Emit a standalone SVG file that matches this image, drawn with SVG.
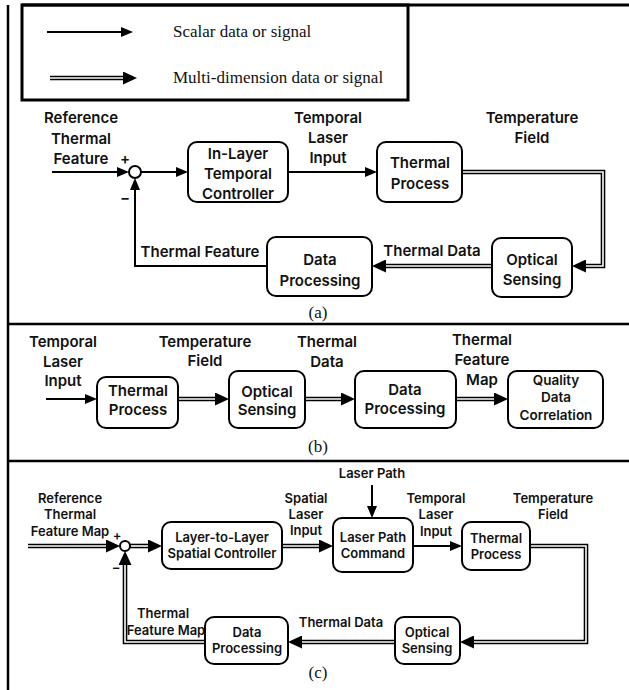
<svg xmlns="http://www.w3.org/2000/svg" width="629" height="690" viewBox="0 0 629 690">
<defs>
<style>
.frame{stroke:#000;stroke-width:2.5;fill:none}
.box{fill:#fff;stroke:#000;stroke-width:2}
.t{font-family:Inter,"Open Sans","Liberation Sans",sans-serif;font-weight:600;fill:#111;text-anchor:middle}
.a{font-size:15px}
.b{font-size:15px}
.q{font-size:13.5px}
.c{font-size:13px}
.ser{font-family:"Liberation Serif","Times New Roman",serif;font-size:17px;fill:#111}
.sgl{fill:none;stroke:#000;stroke-width:2}
.dbl{fill:none;stroke:#000;stroke-width:4.6;stroke-linejoin:miter}
.dbi{fill:none;stroke:#fff;stroke-width:1.6;stroke-linejoin:miter}
</style>
<marker id="ah" markerUnits="userSpaceOnUse" markerWidth="12" markerHeight="10" viewBox="0 0 12 10" refX="0" refY="5" orient="auto"><path d="M0,0 L12,5 L0,10 z" fill="#000"/></marker>
<marker id="ah2" markerUnits="userSpaceOnUse" markerWidth="14" markerHeight="13" viewBox="0 0 14 13" refX="0" refY="6.5" orient="auto"><path d="M0,0 L14,6.5 L0,13 z" fill="#000"/></marker>
</defs>
<rect width="629" height="690" fill="#fff"/>

<g id="frame">
<line class="frame" x1="8" y1="5" x2="8" y2="690"/>
<line class="frame" x1="22" y1="5" x2="629" y2="5" style="stroke-width:3"/>
<rect class="frame" x="22" y="5" width="386" height="95" style="stroke-width:3"/>
<line class="frame" x1="8" y1="324" x2="629" y2="324"/>
<line class="frame" x1="8" y1="461" x2="629" y2="461"/>
<text class="ser" x="318" y="318" text-anchor="middle">(a)</text>
<text class="ser" x="318" y="452" text-anchor="middle">(b)</text>
<text class="ser" x="318" y="678" text-anchor="middle">(c)</text>
</g>

<g id="legend">
<path class="sgl" d="M47,32 H121" marker-end="url(#ah)"/>
<path class="dbl" d="M50,78 H123" marker-end="url(#ah2)"/>
<path class="dbi" d="M50,78 H123"/>
<text class="ser" x="173" y="37">Scalar data or signal</text>
<text class="ser" x="173" y="83">Multi-dimension data or signal</text>
</g>

<g id="connectors">
<!-- panel a -->
<path class="sgl" d="M52,172 H117" marker-end="url(#ah)"/>
<path class="sgl" d="M141,172 H176" marker-end="url(#ah)"/>
<path class="sgl" d="M288,172 H365" marker-end="url(#ah)"/>
<path class="sgl" d="M267,266 H135 V190" marker-end="url(#ah)"/>
<path class="dbl" d="M462,172 H603 V266 H586" marker-end="url(#ah2)"/>
<path class="dbi" d="M462,172 H603 V266 H586"/>
<path class="dbl" d="M492,266 H386" marker-end="url(#ah2)"/>
<path class="dbi" d="M492,266 H386"/>
<!-- panel b -->
<path class="sgl" d="M46,399 H85" marker-end="url(#ah)"/>
<path class="dbl" d="M178,399 H215" marker-end="url(#ah2)"/>
<path class="dbi" d="M178,399 H215"/>
<path class="dbl" d="M305,399 H341" marker-end="url(#ah2)"/>
<path class="dbi" d="M305,399 H341"/>
<path class="dbl" d="M456,399 H494" marker-end="url(#ah2)"/>
<path class="dbi" d="M456,399 H494"/>
<!-- panel c -->
<path class="dbl" d="M28,546 H106" marker-end="url(#ah2)"/>
<path class="dbi" d="M28,546 H106"/>
<path class="dbl" d="M130,546 H148" marker-end="url(#ah2)"/>
<path class="dbi" d="M130,546 H148"/>
<path class="dbl" d="M282,546 H319" marker-end="url(#ah2)"/>
<path class="dbi" d="M282,546 H319"/>
<path class="sgl" d="M372,485 V506" marker-end="url(#ah)"/>
<path class="sgl" d="M413,546 H450" marker-end="url(#ah)"/>
<path class="dbl" d="M530,546 H586 V642 H474" marker-end="url(#ah2)"/>
<path class="dbi" d="M530,546 H586 V642 H474"/>
<path class="dbl" d="M395,642 H302" marker-end="url(#ah2)"/>
<path class="dbi" d="M395,642 H302"/>
<path class="dbl" d="M205,642 H125 V565" marker-end="url(#ah2)"/>
<path class="dbi" d="M205,642 H125 V565"/>
</g>

<!-- panel a nodes -->
<g id="a-ref">
<text class="t a" x="81" y="123">Reference</text>
<text class="t a" x="81" y="144">Thermal</text>
<text class="t a" x="81" y="164">Feature</text>
</g>
<g id="a-sum">
<circle cx="135" cy="172" r="6" fill="#fff" stroke="#000" stroke-width="2"/>
<text class="t a" x="125" y="164">+</text>
<text class="t a" x="125" y="203">−</text>
</g>
<g id="a-ctrl">
<rect class="box" x="188" y="142" width="100" height="60" rx="9"/>
<text class="t a" x="238" y="159">In-Layer</text>
<text class="t a" x="238" y="179">Temporal</text>
<text class="t a" x="238" y="199">Controller</text>
</g>
<g id="a-lbl-tli">
<text class="t a" x="328" y="123">Temporal</text>
<text class="t a" x="328" y="143">Laser</text>
<text class="t a" x="328" y="163">Input</text>
</g>
<g id="a-tp">
<rect class="box" x="377" y="142" width="85" height="60" rx="9"/>
<text class="t a" x="420" y="168">Thermal</text>
<text class="t a" x="420" y="189">Process</text>
</g>
<g id="a-lbl-tf">
<text class="t a" x="532" y="123">Temperature</text>
<text class="t a" x="532" y="143">Field</text>
</g>
<g id="a-os">
<rect class="box" x="492" y="238" width="80" height="59" rx="9"/>
<text class="t a" x="532" y="265">Optical</text>
<text class="t a" x="532" y="285">Sensing</text>
</g>
<g id="a-dp">
<rect class="box" x="267" y="237" width="105" height="59" rx="9"/>
<text class="t a" x="320" y="265">Data</text>
<text class="t a" x="320" y="286">Processing</text>
</g>
<g id="a-lbl">
<text class="t a" x="200" y="257">Thermal Feature</text>
<text class="t a" x="432" y="256">Thermal Data</text>
</g>

<!-- panel b nodes -->
<g id="b-lbl">
<text class="t b" x="63" y="347">Temporal</text>
<text class="t b" x="63" y="367">Laser</text>
<text class="t b" x="63" y="386">Input</text>
<text class="t b" x="205" y="347">Temperature</text>
<text class="t b" x="205" y="366">Field</text>
<text class="t b" x="327" y="347">Thermal</text>
<text class="t b" x="327" y="367">Data</text>
<text class="t b" x="482" y="345">Thermal</text>
<text class="t b" x="482" y="365">Feature</text>
<text class="t b" x="482" y="385">Map</text>
</g>
<g id="b-tp">
<rect class="box" x="97" y="377" width="81" height="51" rx="9"/>
<text class="t b" x="138" y="396">Thermal</text>
<text class="t b" x="138" y="415">Process</text>
</g>
<g id="b-os">
<rect class="box" x="229" y="371" width="76" height="57" rx="9"/>
<text class="t b" x="267" y="397">Optical</text>
<text class="t b" x="267" y="415">Sensing</text>
</g>
<g id="b-dp">
<rect class="box" x="355" y="371" width="101" height="57" rx="9"/>
<text class="t b" x="405" y="395">Data</text>
<text class="t b" x="405" y="414">Processing</text>
</g>
<g id="b-qdc">
<rect class="box" x="508" y="371" width="95" height="57" rx="9"/>
<text class="t q" x="556" y="385">Quality</text>
<text class="t q" x="556" y="402">Data</text>
<text class="t q" x="556" y="420">Correlation</text>
</g>

<!-- panel c nodes -->
<g id="c-ref">
<text class="t c" x="70" y="503">Reference</text>
<text class="t c" x="70" y="519">Thermal</text>
<text class="t c" x="70" y="536">Feature Map</text>
</g>
<g id="c-sum">
<circle cx="125" cy="546" r="5" fill="#fff" stroke="#000" stroke-width="2"/>
<text class="t c" x="117" y="540">+</text>
<text class="t c" x="116" y="572">−</text>
</g>
<g id="c-ctrl">
<rect class="box" x="162" y="522" width="120" height="47" rx="9"/>
<text class="t c" x="222" y="542">Layer-to-Layer</text>
<text class="t c" x="222" y="558">Spatial Controller</text>
</g>
<g id="c-lbl-sli">
<text class="t c" x="306" y="503">Spatial</text>
<text class="t c" x="306" y="519">Laser</text>
<text class="t c" x="306" y="535">Input</text>
</g>
<g id="c-lbl-lp">
<text class="t c" x="372" y="478">Laser Path</text>
</g>
<g id="c-lpc">
<rect class="box" x="333" y="518" width="80" height="54" rx="9"/>
<text class="t c" x="373" y="542">Laser Path</text>
<text class="t c" x="373" y="558">Command</text>
</g>
<g id="c-lbl-tli">
<text class="t c" x="436" y="503">Temporal</text>
<text class="t c" x="436" y="519">Laser</text>
<text class="t c" x="436" y="536">Input</text>
</g>
<g id="c-tp">
<rect class="box" x="462" y="522" width="68" height="48" rx="9"/>
<text class="t c" x="496" y="543">Thermal</text>
<text class="t c" x="496" y="559">Process</text>
</g>
<g id="c-lbl-tf">
<text class="t c" x="553" y="503">Temperature</text>
<text class="t c" x="553" y="519">Field</text>
</g>
<g id="c-os">
<rect class="box" x="395" y="617" width="65" height="47" rx="9"/>
<text class="t c" x="427" y="637">Optical</text>
<text class="t c" x="427" y="653">Sensing</text>
</g>
<g id="c-dp">
<rect class="box" x="205" y="617" width="83" height="47" rx="9"/>
<text class="t c" x="247" y="637">Data</text>
<text class="t c" x="247" y="653">Processing</text>
</g>
<g id="c-lbl">
<text class="t c" x="163" y="618">Thermal</text>
<text class="t c" x="166" y="635">Feature Map</text>
<text class="t c" x="341" y="627">Thermal Data</text>
</g>
</svg>
